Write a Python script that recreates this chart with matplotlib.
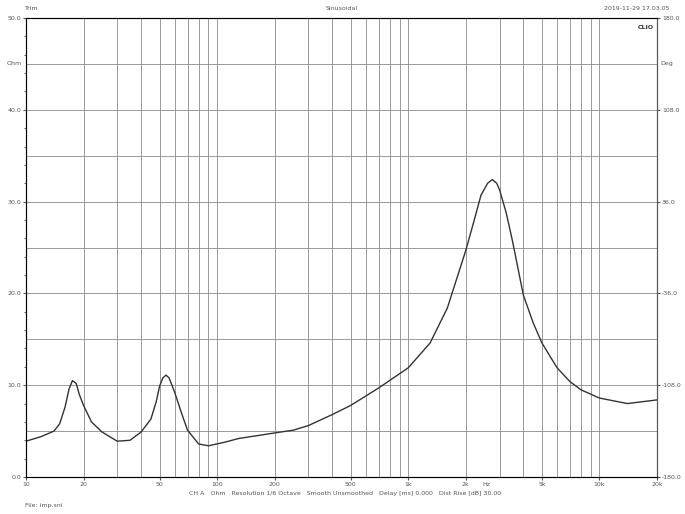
import matplotlib
matplotlib.use("Agg")
import matplotlib.pyplot as plt
from matplotlib.ticker import FixedLocator, NullFormatter

freq = [10, 12, 14, 15, 16, 16.8, 17.5, 18.3, 19, 20, 22, 25, 30, 35, 40, 45, 48, 50, 52, 54, 56, 58, 60, 65, 70, 80, 90,
        110, 130, 150, 200, 250, 300, 400, 500, 700, 1000, 1300, 1600, 2000, 2200, 2400, 2600, 2750, 2900,
        3000, 3250, 3500, 4000, 4500, 5000, 6000, 7000, 8000, 10000, 14000, 20000]
ohm = [3.9, 4.4, 5.0, 5.8, 7.6, 9.6, 10.5, 10.2, 9.0, 7.8, 6.0, 4.9, 3.9, 4.0, 4.9, 6.3, 8.2, 9.9, 10.8, 11.1, 10.8, 10.0, 9.2, 7.0, 5.1, 3.6, 3.4,
       3.8, 4.2, 4.4, 4.8, 5.1, 5.6, 6.8, 7.8, 9.7, 11.9, 14.6, 18.4, 24.7, 27.8, 30.7, 32.0, 32.4, 32.0,
       31.3, 28.8, 25.8, 19.8, 16.8, 14.6, 11.9, 10.4, 9.5, 8.6, 8.0, 8.4]

xticks = [10, 20, 50, 100, 200, 500, 1000, 2000, 5000, 10000, 20000]
xlabels = ["10", "20", "50", "100", "200", "500", "1k", "2k", "5k", "10k", "20k"]
grid_x = [20, 30, 40, 50, 60, 70, 80, 90, 100, 200, 300, 400, 500, 600, 700, 800, 900, 1000,
          2000, 3000, 4000, 5000, 6000, 7000, 8000, 9000, 10000]
yticks = [0, 10, 20, 30, 40, 50]
ylabels = ["0.0", "10.0", "20.0", "30.0", "40.0", "50.0"]
rlabels = ["-180.0", "-108.0", "-36.0", "36.0", "108.0", "180.0"]

fig = plt.figure(figsize=(6.85, 5.14), dpi=100)
ax = fig.add_axes([26/685, 37/514, 631/685, 459/514])
ax.set_xscale("log")
ax.set_xlim(10, 20000)
ax.set_ylim(0, 50)
for g in grid_x:
    ax.axvline(g, color="#8a8a8a", lw=0.6)
for h in range(5, 50, 5):
    ax.axhline(h, color="#8a8a8a", lw=0.6)
ax.plot(freq, ohm, color="#333333", lw=1.0)
ax.xaxis.set_major_locator(FixedLocator(xticks))
ax.set_xticklabels(xlabels)
ax.xaxis.set_minor_formatter(NullFormatter())
ax.xaxis.set_minor_locator(FixedLocator([]))
ax.set_yticks(yticks)
ax.set_yticklabels(ylabels)
ax.set_yticks(range(0, 51, 2), minor=True)
ax.tick_params(labelsize=4.5, colors="#555555", length=2, pad=1.5, direction="out")
ax.tick_params(which="minor", length=1.5, colors="#555555")
for s in ax.spines.values():
    s.set_color("#555555")
ax2 = ax.twinx()
ax2.set_ylim(-180, 180)
ax2.set_yticks([-180, -108, -36, 36, 108, 180])
ax2.set_yticklabels(rlabels)
ax2.tick_params(labelsize=4.5, colors="#555555", length=2, pad=1.5)
ax2.spines["right"].set_color("#555555")

ax.text(-0.006, 0.9, "Ohm", transform=ax.transAxes, ha="right", va="center", fontsize=4.5, color="#555555")
ax.text(1.006, 0.9, "Deg", transform=ax.transAxes, ha="left", va="center", fontsize=4.5, color="#555555")
ax.text(0.995, 0.985, "CLIO", transform=ax.transAxes, ha="right", va="top", fontsize=4.5, fontweight="bold", color="#333333")
ax.text(0.729, -0.011, "Hz", transform=ax.transAxes, ha="center", va="top", fontsize=4.5, color="#555555")
fig.text(25/685, 1-9/514, "Trim", fontsize=4.5, color="#555555", va="center")
fig.text(342/685, 1-9/514, "Sinusoidal", fontsize=4.5, color="#555555", va="center", ha="center")
fig.text(670/685, 1-9/514, "2019-11-29 17.03.05", fontsize=4.5, color="#555555", va="center", ha="right")
fig.text(345/685, 1-494/514, "CH A   Ohm   Resolution 1/6 Octave   Smooth Unsmoothed   Delay [ms] 0.000   Dist Rise [dB] 30.00",
         fontsize=4.5, color="#555555", va="center", ha="center")
fig.text(25/685, 1-505/514, "File: imp.sni", fontsize=4.5, color="#555555", va="center")
fig.savefig("out.png", dpi=100)
